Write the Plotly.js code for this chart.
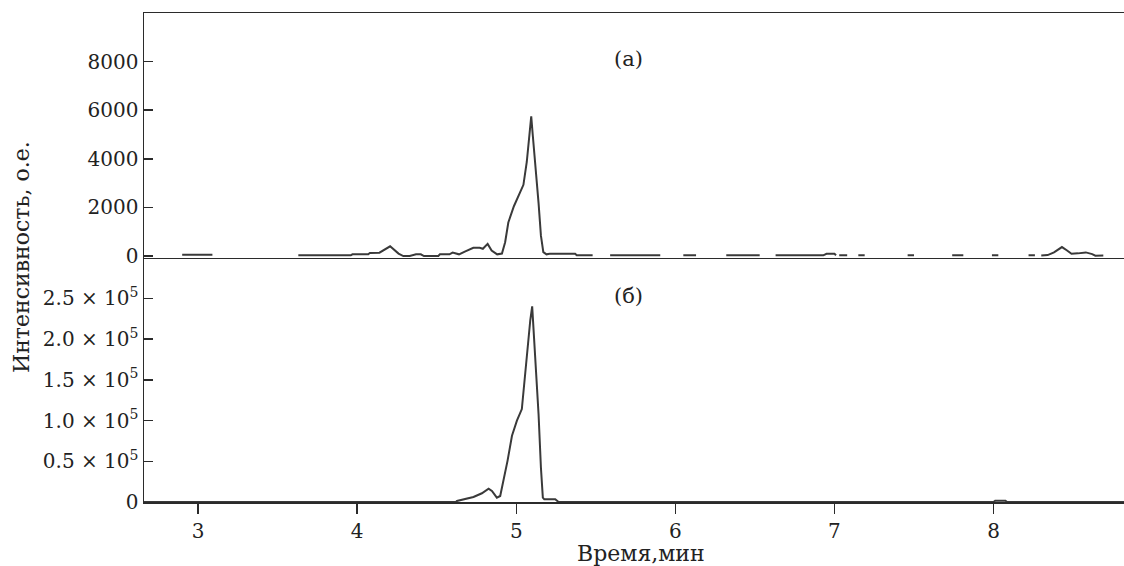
<!DOCTYPE html>
<html>
<head>
<meta charset="utf-8">
<script src="https://cdn.plot.ly/plotly-3.0.1.min.js"></script>
<style>html,body{margin:0;padding:0;background:#fff;}#chart{width:1124px;height:566px;}</style>
</head>
<body>
<div id="chart"></div>
<script>
// Panel (а): time, min / intensity, a.u. (null = gap in the recorded trace)
const timeA = [2.90, 3.09, null,
  3.63, 3.96, 3.97, 4.07, 4.08, 4.14, 4.207, 4.26, 4.29, 4.33, 4.37, 4.40, 4.42, 4.51, 4.52, 4.58,
  4.60, 4.64, 4.68, 4.73, 4.77, 4.79, 4.82, 4.845, 4.88, 4.91, 4.93, 4.95, 4.985, 5.02, 5.045,
  5.066, 5.083, 5.094, 5.104, 5.12, 5.14, 5.155, 5.17, 5.19, 5.21, 5.37, 5.38, 5.48, null,
  5.59, 5.905, null, 6.05, 6.13, null, 6.32, 6.53, null, 6.63, 6.93, 6.95, 7.00, 7.01, null,
  7.03, 7.08, null, 7.15, 7.19, null, 7.46, 7.50, null, 7.74, 7.81, null, 7.99, 8.03, null,
  8.22, 8.26, null, 8.30, 8.34, 8.38, 8.43, 8.46, 8.49, 8.53, 8.58, 8.62, 8.64, 8.69];
const intensityA = [50, 50, null,
  30, 30, 70, 70, 130, 140, 400, 100, 0, 0, 70, 70, 0, 0, 70, 70,
  140, 70, 190, 340, 340, 300, 500, 230, 70, 100, 570, 1380, 2050, 2590, 2930,
  3870, 4890, 5750, 4950, 3800, 2190, 840, 160, 70, 90, 90, 30, 30, null,
  30, 30, null, 30, 30, null, 30, 30, null, 30, 30, 90, 90, 30, null,
  30, 30, null, 30, 30, null, 30, 30, null, 30, 30, null, 30, 30, null,
  30, 30, null, 20, 40, 150, 370, 240, 95, 110, 150, 80, 15, 20];

// Panel (б)
const timeB = [2.66, 4.62, 4.627, 4.668, 4.731, 4.784, 4.826, 4.847, 4.878, 4.899, 4.92, 4.945,
  4.973, 5.004, 5.035, 5.056, 5.071, 5.088, 5.10, 5.113, 5.125, 5.14, 5.155, 5.167, 5.176,
  5.245, 5.266, 8.0, 8.01, 8.075, 8.085, 8.82];
const intensityB = [0, 0, 1200, 3300, 6200, 10700, 16400, 13500, 5300, 7400, 25900, 50500,
  81300, 99800, 114000, 161000, 194000, 223000, 240000, 198000, 161000, 108000, 42000, 5300, 3300,
  3300, 0, 0, 1500, 1500, 0, 0];

const xTicks = [3, 4, 5, 6, 7, 8];
const yTicksA = [0, 2000, 4000, 6000, 8000];
const yTicksB = [0, 50000, 100000, 150000, 200000, 250000];
const yTickTextB = ['0', '0.5 × 10<sup>5</sup>', '1.0 × 10<sup>5</sup>', '1.5 × 10<sup>5</sup>',
  '2.0 × 10<sup>5</sup>', '2.5 × 10<sup>5</sup>'];
const panelLabels = ['(а)', '(б)'];
const xTitle = 'Время,мин';
const yTitle = 'Интенсивность, о.е.';

const ink = '#2b2b2b';
const fam = 'DejaVu Serif';
const font = {family: fam, color: '#222', size: 20};

const traces = [
  {x: timeA, y: intensityA, xaxis: 'x2', yaxis: 'y2', type: 'scatter', mode: 'lines',
   line: {color: '#3a3a3a', width: 2}, connectgaps: false, hoverinfo: 'skip'},
  {x: timeB, y: intensityB, xaxis: 'x', yaxis: 'y', type: 'scatter', mode: 'lines',
   line: {color: '#3a3a3a', width: 2}, hoverinfo: 'skip'}
];

const layout = {
  width: 1124, height: 566,
  margin: {l: 144, r: 0, t: 13, b: 64},
  paper_bgcolor: '#fff', plot_bgcolor: '#fff',
  showlegend: false,
  font: font,
  xaxis: {
    domain: [0, 1], range: [2.66, 8.82], anchor: 'y',
    tickvals: xTicks, ticktext: xTicks.map(String),
    ticks: 'outside', ticklen: 10, tickwidth: 1.5, tickcolor: ink,
    showline: true, linecolor: ink, linewidth: 2,
    showgrid: false, zeroline: false,
    tickfont: font
  },
  yaxis: {
    domain: [0, 0.5], range: [0, 300000], anchor: 'x',
    tickvals: yTicksB, ticktext: yTickTextB,
    ticks: 'inside', ticklen: 9, tickwidth: 1.5, tickcolor: ink,
    showline: true, linecolor: ink, linewidth: 1.5,
    showgrid: false, zeroline: false, tickfont: font, ticklabelstandoff: 0
  },
  xaxis2: {
    domain: [0, 1], range: [2.66, 8.82], anchor: 'y2', matches: 'x',
    showticklabels: false, ticks: '',
    showline: true, mirror: true, linecolor: ink, linewidth: 1.5,
    showgrid: false, zeroline: false
  },
  yaxis2: {
    domain: [0.5, 1], range: [-60, 10000], anchor: 'x2',
    tickvals: yTicksA, ticktext: yTicksA.map(String),
    ticks: 'inside', ticklen: 9, tickwidth: 1.5, tickcolor: ink,
    showline: true, linecolor: ink, linewidth: 1.5,
    showgrid: false, zeroline: false, tickfont: font, ticklabelstandoff: 0
  },
  annotations: [
    {text: panelLabels[0], xref: 'paper', yref: 'paper', x: 0.494, y: 0.935,
     showarrow: false, font: {family: fam, size: 21, color: '#222'}},
    {text: panelLabels[1], xref: 'paper', yref: 'paper', x: 0.494, y: 0.421,
     showarrow: false, font: {family: fam, size: 21, color: '#222'}},
    {text: yTitle, xref: 'paper', yref: 'paper', x: -0.125, y: 0.50, xanchor: 'center', yanchor: 'middle',
     textangle: -90, showarrow: false, font: {family: fam, size: 22, color: '#222'}},
    {text: xTitle, xref: 'paper', yref: 'paper', x: 0.507, y: -0.105, xanchor: 'center', yanchor: 'middle',
     showarrow: false, font: {family: fam, size: 22, color: '#222'}}
  ]
};

Plotly.newPlot('chart', traces, layout, {displayModeBar: false, staticPlot: true});
</script>
</body>
</html>
